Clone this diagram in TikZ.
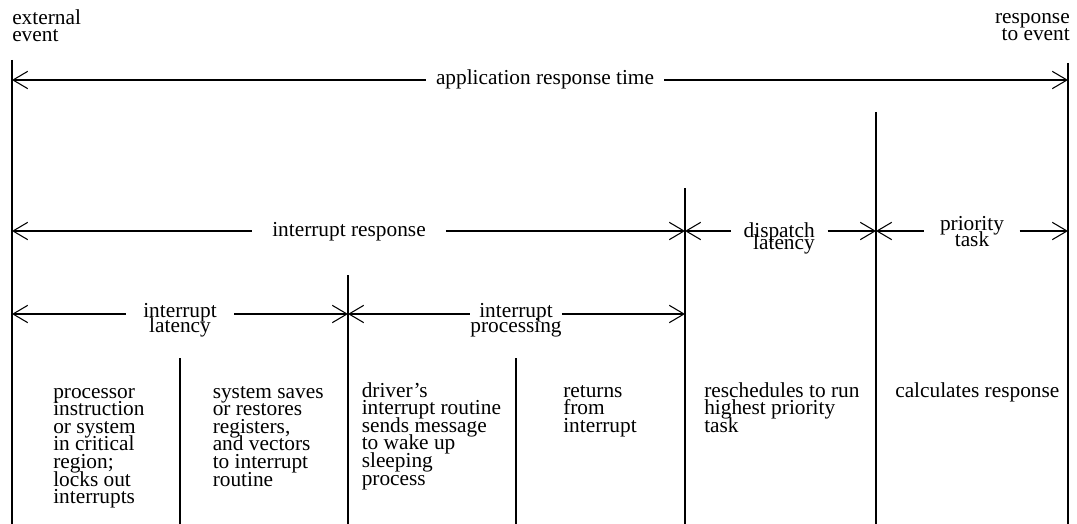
\documentclass[tikz,border=0pt]{standalone}
\usepackage{fontspec}
\setmainfont{Liberation Serif}
\usetikzlibrary{arrows.meta}
\newcommand\ctext[1]{\vtop{\halign{\hfil##\hfil\cr#1\crcr}}}
\newcommand\ltext[1]{\vtop{\halign{##\hfil\cr#1\crcr}}}
\newcommand\rtext[1]{\vtop{\halign{\hfil##\cr#1\crcr}}}
\tikzset{
  >={Straight Barb[length=11pt,width=13pt]},
  ln/.style={line width=0.8pt, line cap=butt},
  txt/.style={inner sep=0pt, font={\fontsize{16pt}{13.2pt}\selectfont\lineskiplimit=-100pt\relax}},
  lbl/.style={txt, inner ysep=0pt, anchor=base},
}
\begin{document}
\begin{tikzpicture}[x=0.75pt, y=-0.75pt]
\useasboundingbox (0,0) rectangle (1077,524);

% vertical boundaries
\coordinate (vAt) at (12,60);   \coordinate (vAb) at (12,524);
\coordinate (vBt) at (1068,63); \coordinate (vBb) at (1068,524);
\coordinate (vCt) at (876,112); \coordinate (vCb) at (876,524);
\coordinate (vDt) at (685,188); \coordinate (vDb) at (685,524);
\coordinate (vEt) at (348,275); \coordinate (vEb) at (348,524);
\coordinate (vFt) at (180,358); \coordinate (vFb) at (180,524);
\coordinate (vGt) at (516,358); \coordinate (vGb) at (516,524);
\foreach \v in {A,B,C,D,E,F,G} \draw[ln] (v\v t) -- (v\v b);

% top labels
\node[txt, anchor=base west] (ext) at (12,25) {\baselineskip=12.75pt\ltext{external\cr event}};
\node[txt, anchor=base east] (resp) at (1070,24) {\baselineskip=12.75pt\rtext{response\cr to event}};

% row 1
\coordinate (r1l) at (12,80); \coordinate (r1r) at (1068,80);
\node[lbl, inner xsep=7.5pt] (art) at (545,85) {application response time};
\draw[ln,<-] (r1l) -- (r1l -| art.west);
\draw[ln,->] (r1r -| art.east) -- (r1r);

% row 2
\coordinate (r2a) at (12,231); \coordinate (r2b) at (685,231);
\coordinate (r2c) at (876,231); \coordinate (r2d) at (1068,231);
\node[lbl, inner xsep=15pt] (irs) at (349,236) {interrupt response};
\draw[ln,<-] (r2a) -- (r2a -| irs.west);
\draw[ln,->] (r2b -| irs.east) -- (r2b);
\node[txt, inner xsep=9.5pt, anchor=base east] (dl) at (827.7,237) {\baselineskip=9pt\rtext{dispatch\cr latency}};
\draw[ln,<-] (r2b) -- (r2b -| dl.west);
\draw[ln,->] (r2c -| dl.east) -- (r2c);
\node[lbl, inner xsep=11.5pt] (pt) at (972,230) {\baselineskip=12pt\ctext{priority\cr task}};
\draw[ln,<-] (r2c) -- (r2c -| pt.west);
\draw[ln,->] (r2d -| pt.east) -- (r2d);

% row 3
\coordinate (r3a) at (12,314); \coordinate (r3b) at (348,314); \coordinate (r3c) at (685,314);
\node[lbl, inner xsep=13pt] (il) at (180,317) {\baselineskip=11.5pt\ctext{interrupt\cr latency}};
\draw[ln,<-] (r3a) -- (r3a -| il.west);
\draw[ln,->] (r3b -| il.east) -- (r3b);
\node[lbl, inner xsep=0pt] (ip) at (516,317) {\baselineskip=11.5pt\ctext{interrupt\cr processing}};
\draw[ln,<-] (r3b) -- (r3b -| ip.west);
\draw[ln,->] (r3c -| ip.east) -- (r3c);

% bottom descriptions
\node[txt, anchor=base west] (d1) at (53,398) {\ltext{processor\cr instruction\cr or system\cr in critical\cr region;\cr locks out\cr interrupts}};
\node[txt, anchor=base west] (d2) at (212.5,398) {\ltext{system saves\cr or restores\cr registers,\cr and vectors\cr to interrupt\cr routine}};
\node[txt, anchor=base west] (d3) at (361.5,397) {\ltext{driver’s\cr interrupt routine\cr sends message\cr to wake up\cr sleeping\cr process}};
\node[txt, anchor=base west] (d4) at (563,397) {\ltext{returns\cr from\cr interrupt}};
\node[txt, anchor=base west] (d5) at (704,397) {\ltext{reschedules to run\cr highest priority\cr task}};
\node[txt, anchor=base west] (d6) at (895,397) {calculates response};
\end{tikzpicture}
\end{document}
